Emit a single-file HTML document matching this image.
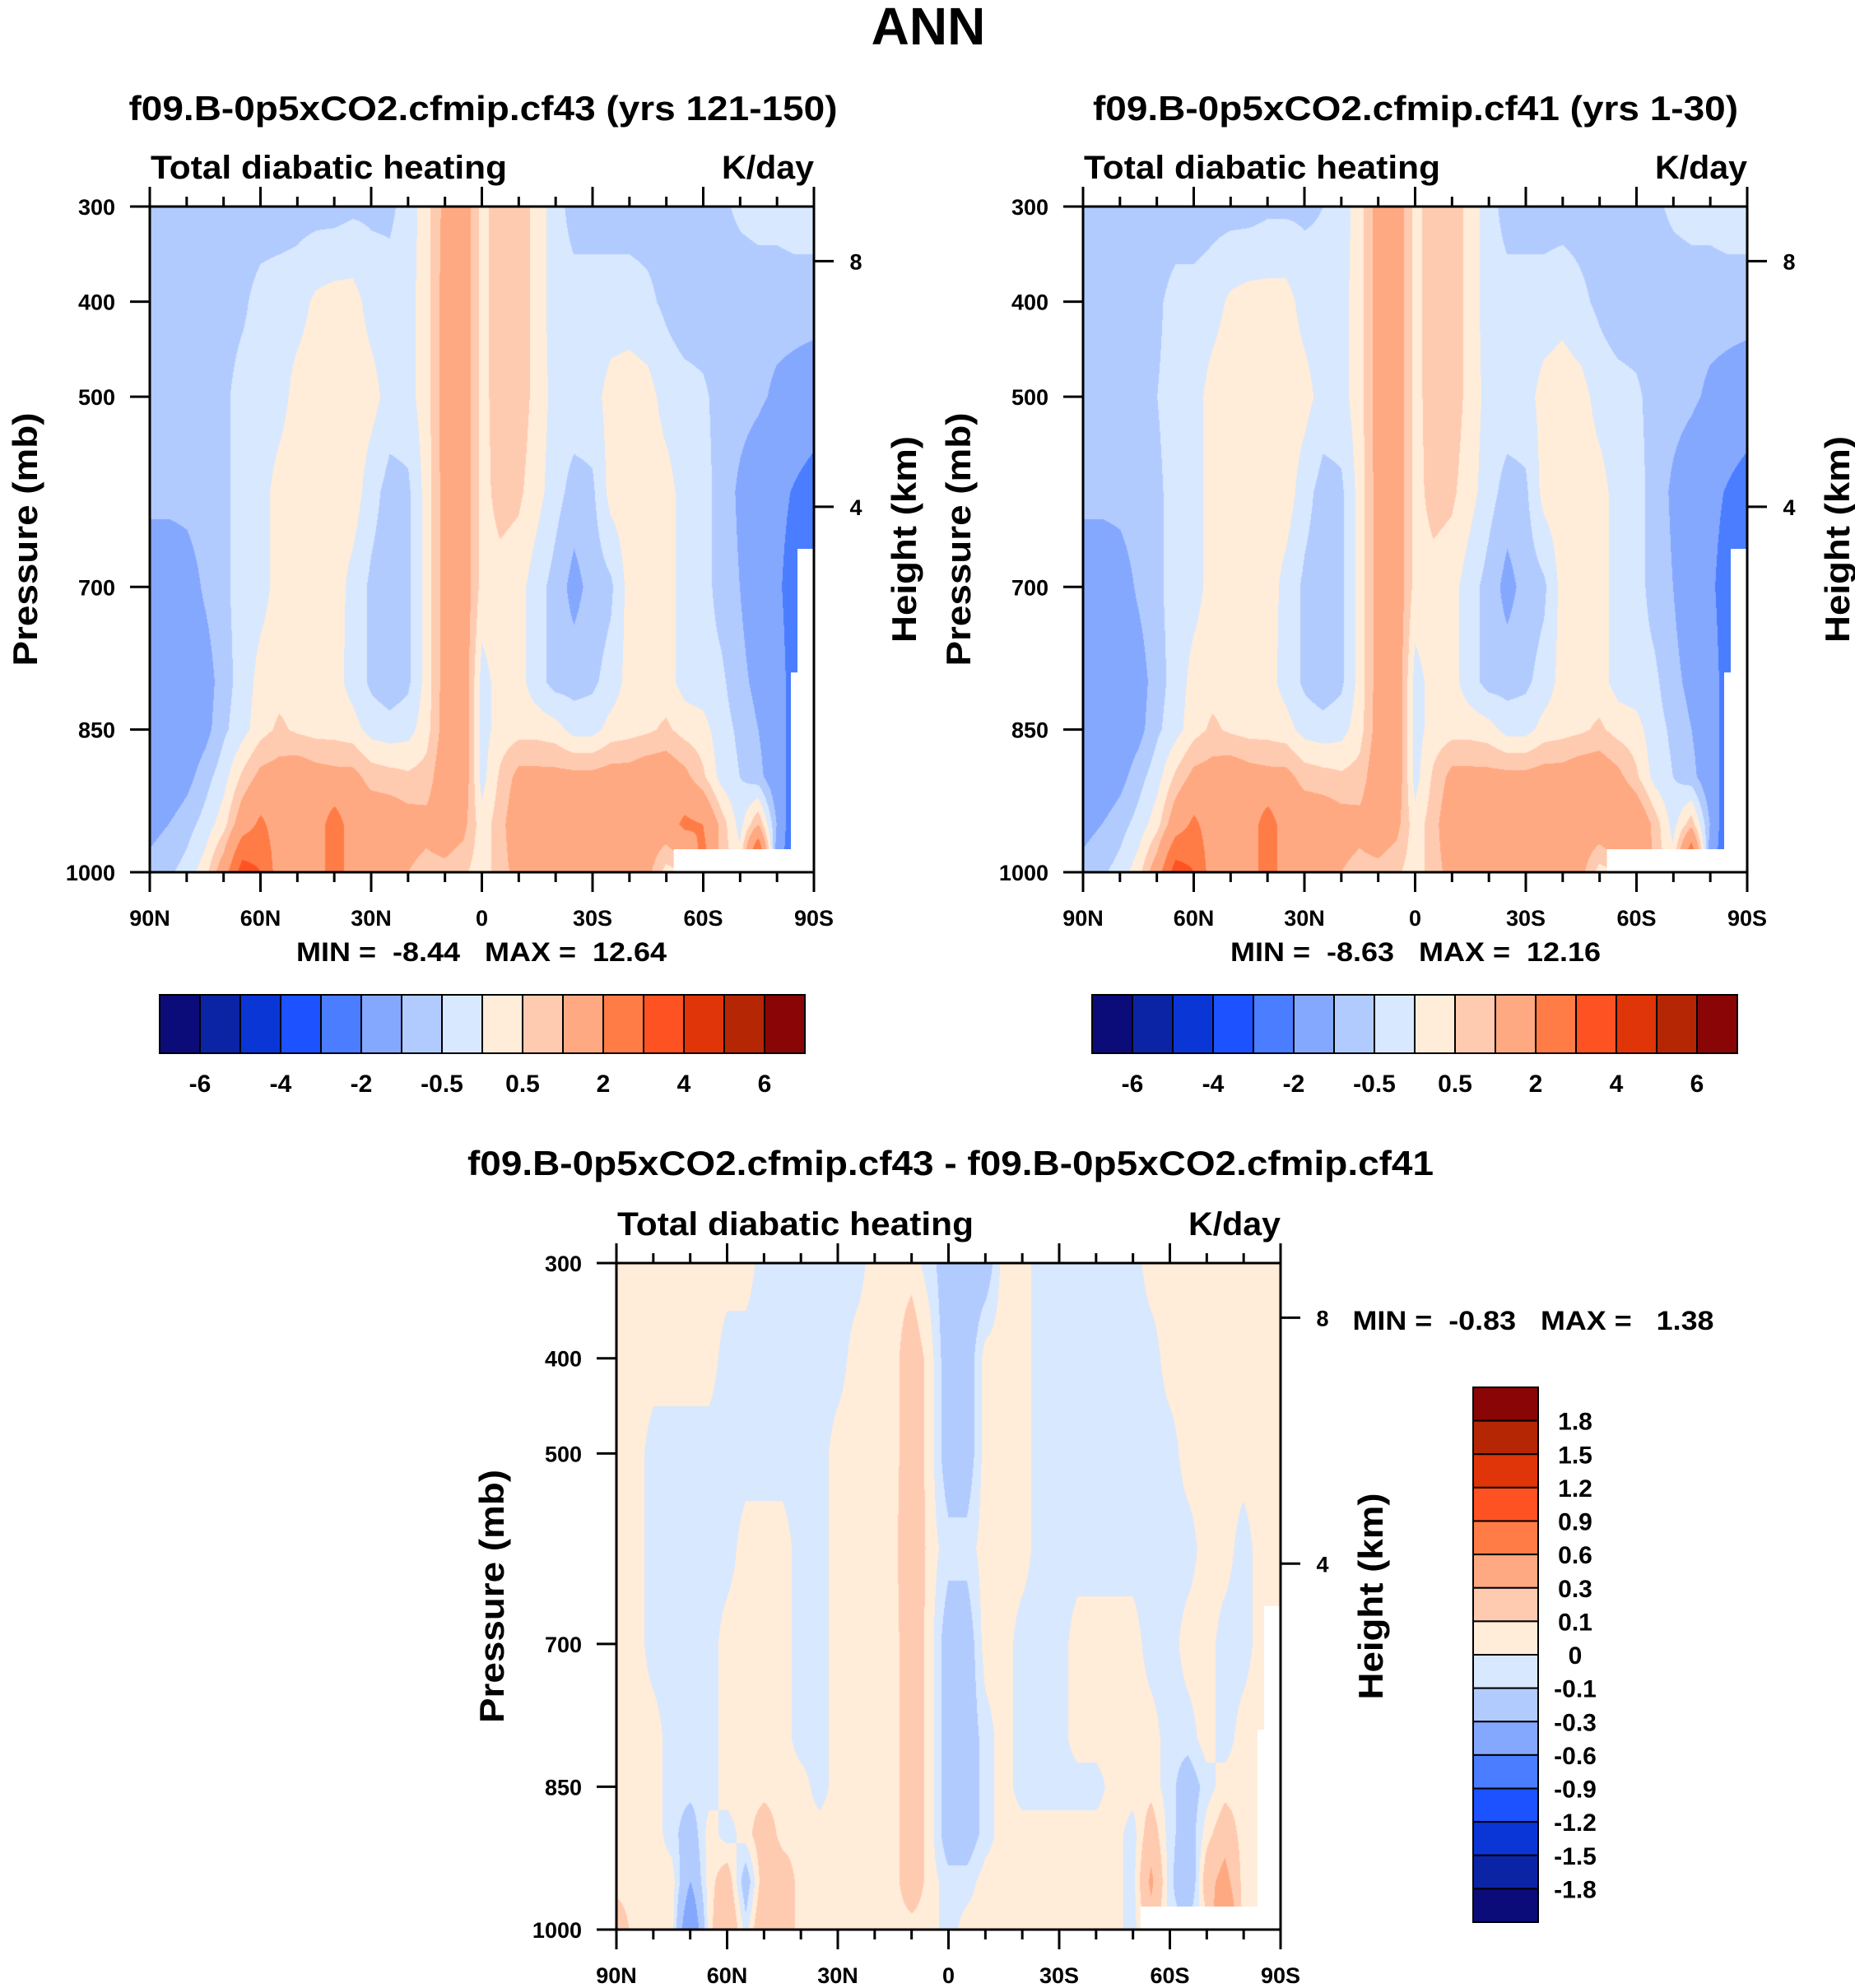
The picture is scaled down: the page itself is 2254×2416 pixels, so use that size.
<!DOCTYPE html>
<html><head><meta charset="utf-8">
<style>
html,body{margin:0;padding:0;background:#fff;}
#root{position:relative;width:2254px;height:2416px;overflow:hidden;background:#fff;}
canvas{position:absolute;}
svg{position:absolute;left:0;top:0;}
text{font-family:"Liberation Sans",sans-serif;font-weight:bold;fill:#000;white-space:pre;}
</style></head>
<body>
<div id="root">
<canvas id="c1"></canvas>
<canvas id="c2"></canvas>
<canvas id="c3"></canvas>
<svg id="ov" width="2254" height="2416"></svg>
</div>
<script>
// ---- data ----
const latLabels = ["90N","60N","30N","0","30S","60S","90S"];
const pressTicks = [300,400,500,700,850,1000];
const heightTicks = ["8","4"];
const pressLevels = [300,400,500,600,700,800,850,900,950,1000];
const mainBounds = [-6,-5,-4,-3,-2,-1,-0.5,0,0.5,1,2,3,4,5,6];
const mainBarLabels = ["-6","-4","-2","-0.5","0.5","2","4","6"];
const diffBounds = [-1.8,-1.5,-1.2,-0.9,-0.6,-0.3,-0.1,0,0.1,0.3,0.6,0.9,1.2,1.5,1.8];
const diffBarLabels = ["1.8","1.5","1.2","0.9","0.6","0.3","0.1","0","-0.1","-0.3","-0.6","-0.9","-1.2","-1.5","-1.8"];
const palette = ['#0b0b7a','#0b24a6','#0b36d6','#1c52ff','#4a7dff','#85a8ff','#b2cbff','#d7e8ff','#ffecd9','#ffcbb0','#ffa982','#ff7c47','#ff5222','#e03508','#b52605','#8a0505'];
const stats1 = "MIN =  -8.44   MAX =  12.64";
const stats2 = "MIN =  -8.63   MAX =  12.16";
const stats3 = "MIN =  -0.83   MAX =   1.38";
// rows: pressure levels; columns: 90N..90S every 5 deg
const testValues = [
[-0.8,-0.8,-0.8,-0.8,-0.8,-0.8,-0.8,-0.8,-0.7,-0.7,-0.7,-0.6,-0.6,-0.6,-0.3,0.3,1.2,1.5,0.3,0.8,0.8,0.3,-0.3,-0.7,-0.7,-0.7,-0.7,-0.7,-0.7,-0.7,-0.6,-0.6,-0.4,-0.3,-0.3,-0.2,-0.2],
[-0.8,-0.8,-0.8,-0.8,-0.7,-0.6,-0.3,-0.2,-0.2,0.1,0.2,0.2,-0.2,-0.3,-0.2,0.3,1.3,1.5,0.3,0.8,0.8,0.3,-0.3,-0.3,-0.3,-0.3,-0.3,-0.4,-0.6,-0.8,-0.8,-0.8,-0.8,-0.8,-0.8,-0.8,-0.8],
[-0.8,-0.8,-0.8,-0.7,-0.6,-0.3,-0.3,-0.2,0.2,0.3,0.3,0.3,0.2,-0.2,-0.2,0.3,1.3,1.5,0.3,0.8,0.8,0.3,-0.2,-0.2,-0.2,0.2,0.3,0.2,-0.2,-0.3,-0.4,-0.7,-0.8,-0.9,-1.1,-1.2,-1.3],
[-0.8,-0.8,-0.8,-0.7,-0.6,-0.3,-0.2,0.2,0.3,0.3,0.3,0.3,-0.3,-0.7,-0.6,0.2,1.3,1.5,0.3,0.7,0.6,0.2,-0.3,-0.7,-0.6,0.2,0.3,0.3,0.2,-0.2,-0.3,-0.7,-1.1,-1.4,-1.7,-2.1,-2.5],
[-1.5,-1.5,-1.3,-0.9,-0.6,-0.3,-0.2,0.2,0.3,0.3,0.3,-0.2,-0.6,-0.8,-0.6,0.2,1.3,1.5,0.3,0.3,0.2,-0.3,-0.7,-1.2,-0.8,-0.6,0.2,0.3,0.2,-0.2,-0.3,-0.7,-1.0,-1.5,-1.8,-2.5,-2.5],
[-1.5,-1.5,-1.5,-1.3,-0.7,-0.3,0.2,0.3,0.3,0.3,0.2,-0.2,-0.6,-0.8,-0.6,0.2,1.3,1.5,-0.2,0.2,0.2,-0.3,-0.7,-0.7,-0.6,-0.3,0.2,0.3,0.2,-0.2,-0.3,-0.4,-0.8,-1.2,-1.5,-2.5,-2.5],
[-1.5,-1.5,-1.5,-1.2,-0.6,-0.2,0.3,0.6,0.4,0.3,0.3,0.2,-0.2,-0.3,-0.2,0.3,1.3,1.5,-0.2,0.2,0.3,0.3,0.2,-0.2,-0.2,0.2,0.3,0.4,0.6,0.3,0.2,-0.3,-0.6,-1.0,-1.5,-2.5,-2.5],
[-1.5,-1.5,-1.2,-0.7,-0.2,0.6,1.2,1.3,1.5,1.3,1.2,1.2,0.8,0.7,0.6,0.7,1.5,1.5,-0.2,0.6,1.2,1.2,1.2,1.2,1.2,1.3,1.3,1.5,1.5,1.2,0.6,-0.2,-0.5,-0.8,-1.5,-2.5,-2.5],
[-1.2,-1.0,-0.7,-0.3,0.3,1.5,2.2,1.5,1.5,1.5,2.5,1.5,1.5,1.5,1.3,1.2,1.5,1.2,0.2,0.8,1.5,1.5,1.5,1.5,1.5,1.5,1.5,1.5,1.5,2.2,2.0,0.8,-0.2,1.0,-1.0,-3.0,-3.0],
[-0.8,-0.6,-0.3,0.3,1.5,3.5,3.0,1.5,1.2,1.5,2.5,1.5,1.5,1.2,1.0,0.8,0.8,0.6,0.2,0.8,1.2,1.5,1.5,1.5,1.5,1.5,1.5,1.2,0.3,0.5,2.5,0.8,0.3,4.5,-1.5,-3,-3]];
const cntlValues = [
[-0.8,-0.8,-0.8,-0.8,-0.8,-0.8,-0.8,-0.7,-0.7,-0.7,-0.6,-0.6,-0.6,-0.5,-0.3,0.3,1.3,1.5,0.3,0.8,0.8,0.3,-0.3,-0.7,-0.7,-0.7,-0.7,-0.7,-0.7,-0.7,-0.6,-0.6,-0.4,-0.3,-0.3,-0.2,-0.2],
[-0.8,-0.8,-0.8,-0.7,-0.6,-0.3,-0.3,-0.2,0.1,0.2,0.2,0.2,-0.2,-0.3,-0.2,0.3,1.3,1.5,0.3,0.8,0.8,0.3,-0.3,-0.3,-0.3,-0.3,-0.2,-0.4,-0.6,-0.8,-0.8,-0.8,-0.8,-0.8,-0.8,-0.8,-0.8],
[-0.8,-0.8,-0.8,-0.7,-0.5,-0.3,-0.2,0.2,0.3,0.3,0.3,0.3,0.2,-0.2,-0.2,0.3,1.3,1.5,0.3,0.8,0.8,0.3,-0.2,-0.2,-0.2,0.2,0.3,0.2,-0.2,-0.3,-0.4,-0.7,-0.8,-0.9,-1.1,-1.2,-1.3],
[-0.8,-0.8,-0.8,-0.7,-0.6,-0.3,-0.2,0.2,0.3,0.3,0.3,0.3,-0.3,-0.7,-0.6,0.2,1.3,1.5,0.3,0.7,0.6,0.2,-0.3,-0.7,-0.6,0.2,0.3,0.3,0.2,-0.2,-0.3,-0.7,-1.1,-1.4,-1.7,-2.1,-2.5],
[-1.5,-1.5,-1.3,-0.9,-0.6,-0.3,-0.2,0.2,0.3,0.3,0.3,-0.2,-0.6,-0.8,-0.6,0.2,1.3,1.5,0.3,0.3,0.2,-0.3,-0.7,-1.2,-0.8,-0.6,0.2,0.3,0.2,-0.2,-0.3,-0.7,-1.0,-1.5,-1.8,-2.5,-2.5],
[-1.5,-1.5,-1.5,-1.3,-0.7,-0.3,0.2,0.3,0.3,0.3,0.2,-0.2,-0.6,-0.8,-0.6,0.2,1.3,1.5,-0.2,0.2,0.2,-0.3,-0.7,-0.7,-0.6,-0.3,0.2,0.3,0.2,-0.2,-0.3,-0.4,-0.8,-1.2,-1.5,-2.5,-2.5],
[-1.5,-1.5,-1.5,-1.2,-0.6,-0.2,0.3,0.6,0.4,0.3,0.3,0.2,-0.2,-0.3,-0.2,0.3,1.3,1.5,-0.2,0.2,0.3,0.3,0.2,-0.2,-0.2,0.2,0.3,0.4,0.6,0.3,0.2,-0.3,-0.6,-1.0,-1.5,-2.5,-2.5],
[-1.5,-1.5,-1.2,-0.7,-0.2,0.6,1.2,1.3,1.5,1.3,1.2,1.2,0.8,0.7,0.6,0.7,1.5,1.5,-0.2,0.6,1.2,1.2,1.2,1.2,1.2,1.3,1.3,1.5,1.5,1.2,0.6,-0.2,-0.5,-0.8,-1.5,-2.5,-2.5],
[-1.2,-1.0,-0.7,-0.3,0.3,1.5,2.2,1.5,1.5,1.5,2.5,1.5,1.5,1.5,1.3,1.2,1.5,1.2,0.2,0.8,1.5,1.5,1.5,1.5,1.5,1.5,1.5,1.5,1.5,2.0,1.8,0.8,-0.2,0.8,-1.0,-3.0,-3.0],
[-0.8,-0.6,-0.3,0.3,1.5,3.5,3.0,1.5,1.2,1.5,2.5,1.5,1.5,1.2,1.0,0.8,0.8,0.6,0.2,0.8,1.2,1.5,1.5,1.5,1.5,1.5,1.5,1.2,0.3,0.5,2.2,0.8,0.3,4.0,-1.5,-3,-3]];
const diffValues = [
[.05,.05,.05,.05,.05,.05,.05,.05,-.05,-.05,-.05,-.05,-.05,-.05,.05,.05,.05,-.05,-.2,-.2,-.2,.05,.05,-.05,-.05,-.05,-.05,-.05,-.05,.05,.05,.05,.05,.05,.05,.05,.05],
[.05,.05,.05,.05,.05,.05,-.05,-.05,-.05,-.05,-.05,-.05,-.05,.05,.05,.05,.2,.05,-.2,-.2,.05,.05,.05,-.05,-.05,-.05,-.05,-.05,-.05,-.05,.05,.05,.05,.05,.05,.05,.05],
[.05,.05,-.05,-.05,-.05,-.05,-.05,-.05,-.05,-.05,-.05,-.05,.05,.05,.05,.05,.2,.05,-.2,-.2,.05,.05,.05,-.05,-.05,-.05,-.05,-.05,-.05,-.05,-.05,.05,.05,.05,.05,.05,.05],
[.05,.05,-.05,-.05,-.05,-.05,-.05,.05,.05,.05,-.05,-.05,.05,.05,.05,.05,.25,.05,-.05,-.05,.05,.05,.05,-.05,-.05,-.05,-.05,-.05,-.05,-.05,-.05,-.05,.05,.05,-.05,.05,.05],
[.05,.05,-.05,-.05,-.05,-.05,.05,.05,.05,.05,-.05,-.05,.05,.05,.05,.05,.2,.05,-.2,-.2,.05,.05,-.05,-.05,-.05,.05,.05,.05,.05,-.05,-.05,.05,.05,-.05,-.05,.05,.05],
[.05,.05,.05,-.05,-.05,-.05,.05,.05,.05,.05,-.05,-.05,.05,.05,.05,.05,.2,.05,-.2,-.2,-.05,.05,-.05,-.05,-.05,.05,.05,.05,.05,.05,-.05,-.05,.05,-.05,.05,.05,.05],
[.05,.05,.05,-.05,-.05,-.05,.05,.05,.05,.05,.05,-.05,.05,.05,.05,.05,.2,.05,-.2,-.2,-.05,.05,-.05,-.05,-.05,-.05,-.05,.05,.05,.05,-.05,-.2,-.05,.05,.05,.05,.05],
[.05,.05,.05,-.05,-.2,.05,-.05,.05,.2,.05,.05,.05,.05,.05,.05,.05,.2,.05,-.2,-.2,-.05,.05,.05,.05,.05,.05,.05,.05,-.05,.2,-.05,-.2,.05,.2,.05,.05,.05],
[.05,.05,.05,.05,-.3,.05,.2,-.2,.2,.2,.05,.05,.05,.05,.05,.05,.2,.05,-.05,-.05,.05,.05,.05,.05,.05,.05,.05,.05,-.05,.35,-.05,-.3,.2,.4,.05,.05,.05],
[.2,.05,.05,.05,-.6,.05,.3,-.05,.3,.2,.05,.05,.05,.05,.05,.05,.05,.05,-.05,.05,.05,.05,.05,.05,.05,.05,.05,.05,-.05,.2,-.05,-.05,.05,.7,.05,.05,.05]];

// ---- helpers ----
const NS="http://www.w3.org/2000/svg";
const ov=document.getElementById('ov');
function mk(tag,attrs,parent){const e=document.createElementNS(NS,tag);for(const k in attrs)e.setAttribute(k,attrs[k]);(parent||ov).appendChild(e);return e;}
function txt(s,x,y,size,anchor,name,extra){
  const e=mk('text',Object.assign({x:x,y:y,'font-size':size,'text-anchor':anchor||'middle'},extra||{}));
  e.textContent=s;
  
  
  return e;
}
function hex(c){return [parseInt(c.substr(1,2),16),parseInt(c.substr(3,2),16),parseInt(c.substr(5,2),16)];}
const palRGB=palette.map(hex);
function levelIndex(v,bounds){let i=0;while(i<bounds.length&&v>=bounds[i])i++;return i;}
function sample(grid,fx,p){
  const nc=grid[0].length-1;
  let cx=fx*nc; let i=Math.min(Math.floor(cx),nc-1); let tx=cx-i;
  let r=0; while(r<pressLevels.length-2&&p>pressLevels[r+1])r++;
  let ty=(p-pressLevels[r])/(pressLevels[r+1]-pressLevels[r]);
  const a=grid[r][i],b=grid[r][i+1],c=grid[r+1][i],d=grid[r+1][i+1];
  return (a*(1-tx)+b*tx)*(1-ty)+(c*(1-tx)+d*tx)*ty;
}
function fillCanvas(id,x0,y0,w,h,grid,bounds){
  const cv=document.getElementById(id);cv.width=w;cv.height=h;cv.style.left=x0+'px';cv.style.top=y0+'px';
  const ctx=cv.getContext('2d');const img=ctx.createImageData(w,h);
  for(let y=0;y<h;y++){const p=300+700*y/(h-1);
    for(let x=0;x<w;x++){const v=sample(grid,x/(w-1),p);const col=palRGB[levelIndex(v,bounds)];
      const k=(y*w+x)*4;img.data[k]=col[0];img.data[k+1]=col[1];img.data[k+2]=col[2];img.data[k+3]=255;}}
  ctx.putImageData(img,0,0);
}
function panel(x0,y0,w,h,grid,bounds,prefix,fs){
  fillCanvas(prefix==='p1'?'c1':prefix==='p2'?'c2':'c3',x0,y0,w,h,grid,bounds);
  const g=mk('g',{});
  
  
  const xs=lat=>x0+w*(90-lat)/180;
  const ys=p=>y0+h*(p-300)/700;
  mk('path',{d:`M${xs(-52)} ${y0+h-28} H${xs(-84)} V${y0+h} H${xs(-52)} Z`,fill:'#fff'},g);
  mk('path',{d:`M${x0+w-20} ${ys(660)} H${x0+w} V${y0+h} H${x0+w-28} V${ys(790)} H${x0+w-20} Z`,fill:'#fff'},g);
  mk('rect',{x:x0,y:y0,width:w,height:h,fill:'none',stroke:'#000','stroke-width':3},g);
  for(let lat=90;lat>=-90;lat-=10){const major=lat%30===0;const L=major?24:12;const X=xs(lat);
    mk('line',{x1:X,y1:y0,x2:X,y2:y0-L,stroke:'#000','stroke-width':3},g);
    mk('line',{x1:X,y1:y0+h,x2:X,y2:y0+h+L,stroke:'#000','stroke-width':3},g);}
  latLabels.forEach((s,i)=>{txt(s,xs(90-30*i),y0+h+65,fs,'middle','x-tick-label');});
  pressTicks.forEach(p=>{const Y=ys(p);mk('line',{x1:x0,y1:Y,x2:x0-24,y2:Y,stroke:'#000','stroke-width':3},g);
    txt(String(p),x0-42,Y+10,fs,'end','y-tick-label');});
  const hf=[0.082,0.451];
  heightTicks.forEach((s,i)=>{const Y=y0+h*hf[i];mk('line',{x1:x0+w,y1:Y,x2:x0+w+24,y2:Y,stroke:'#000','stroke-width':3},g);
    txt(s,x0+w+51,Y+10,fs,'middle','height-tick-label');});
  txt('Total diabatic heating',x0+1,y0-34,40,'start','left-subtitle',{textLength:433,lengthAdjust:'spacingAndGlyphs'});
  txt('K/day',x0+w,y0-34,40,'end','units-label',{textLength:112,lengthAdjust:'spacingAndGlyphs'});
  const cy=y0+h/2;
  txt('Pressure (mb)',0,0,42,'middle','y-axis-title',{transform:`translate(${x0-137} ${cy}) rotate(-90)`,textLength:308,lengthAdjust:'spacingAndGlyphs'});
  txt('Height (km)',0,0,42,'middle','right-axis-title',{transform:`translate(${x0+w+124} ${cy}) rotate(-90)`,textLength:251,lengthAdjust:'spacingAndGlyphs'});
}
function hbar(x0,y0,w,h,labels){
  const g=mk('g',{});
  
  
  const bw=w/palette.length;
  palette.forEach((c,i)=>{const r=mk('rect',{x:x0+i*bw,y:y0,width:bw,height:h,fill:c,stroke:'#000','stroke-width':2},g);
    
    });
  labels.forEach((s,i)=>txt(s,x0+bw*(1+2*i),y0+h+47,30,'middle','colorbar-label'));
}
function vbar(x0,y0,w,h,labels){
  const g=mk('g',{});
  
  
  const bh=h/palette.length;
  palette.slice().reverse().forEach((c,i)=>{const r=mk('rect',{x:x0,y:y0+i*bh,width:w,height:bh,fill:c,stroke:'#000','stroke-width':2},g);
    
    });
  labels.forEach((s,i)=>txt(s,x0+w+45,y0+bh*(i+1)+11,30,'middle','colorbar-label'));
}

// ---- build ----
txt('ANN',1128,54,64,'middle','figure-title');
txt('f09.B-0p5xCO2.cfmip.cf43 (yrs 121-150)',587,146,42,'middle','test-case-title',{textLength:861,lengthAdjust:'spacingAndGlyphs'});
txt('f09.B-0p5xCO2.cfmip.cf41 (yrs 1-30)',1720,146,42,'middle','control-case-title',{textLength:784,lengthAdjust:'spacingAndGlyphs'});
panel(182,251,807,809,testValues,mainBounds,'p1',27);
panel(1316,251,807,809,cntlValues,mainBounds,'p2',27);
txt(stats1,585,1168,32,'middle','test-min-max',{textLength:450,lengthAdjust:'spacingAndGlyphs'});
txt(stats2,1720,1168,32,'middle','control-min-max',{textLength:450,lengthAdjust:'spacingAndGlyphs'});
hbar(194,1209,784,71,mainBarLabels);
hbar(1327,1209,784,71,mainBarLabels);
txt('f09.B-0p5xCO2.cfmip.cf43 - f09.B-0p5xCO2.cfmip.cf41',1155,1428,42,'middle','difference-title',{textLength:1174,lengthAdjust:'spacingAndGlyphs'});
panel(749,1535,807,810,diffValues,diffBounds,'p3',27);
txt(stats3,1863,1616,32,'middle','diff-min-max',{textLength:439,lengthAdjust:'spacingAndGlyphs'});
vbar(1790,1686,79,650,diffBarLabels);
</script>
</body></html>
